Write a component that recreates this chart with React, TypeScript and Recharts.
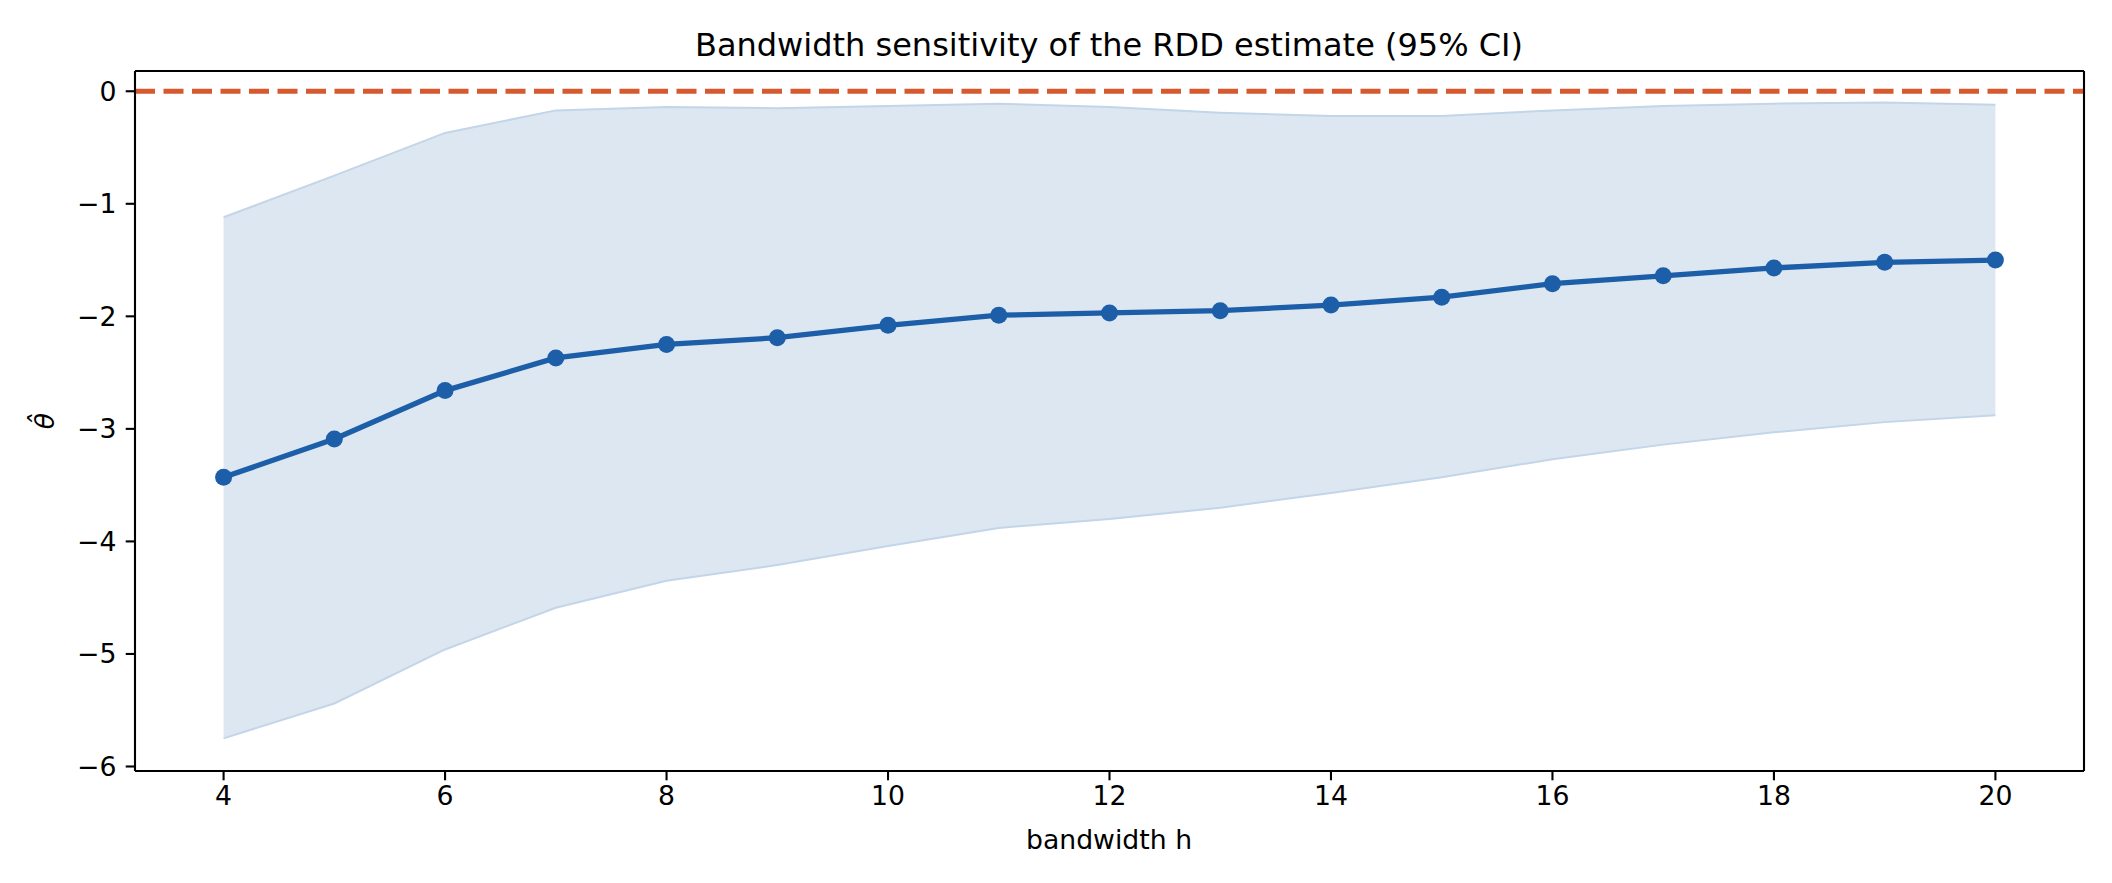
import React from "react";
import {
  ComposedChart,
  Area,
  Line,
  XAxis,
  YAxis,
  ReferenceLine,
} from "recharts";

const bandwidths = [4, 5, 6, 7, 8, 9, 10, 11, 12, 13, 14, 15, 16, 17, 18, 19, 20];
const estimates = [
  -3.43, -3.09, -2.66, -2.37, -2.25, -2.19, -2.08, -1.99, -1.97, -1.95, -1.9,
  -1.83, -1.71, -1.64, -1.57, -1.52, -1.5,
];
const ciLower = [
  -5.75, -5.44, -4.96, -4.59, -4.35, -4.21, -4.04, -3.88, -3.8, -3.7, -3.57,
  -3.43, -3.27, -3.14, -3.03, -2.94, -2.88,
];
const ciUpper = [
  -1.12, -0.75, -0.37, -0.17, -0.14, -0.15, -0.13, -0.11, -0.14, -0.19, -0.22,
  -0.22, -0.17, -0.13, -0.11, -0.1, -0.12,
];
const xTicks = [4, 6, 8, 10, 12, 14, 16, 18, 20];
const yTicks = [-6, -5, -4, -3, -2, -1, 0];
const xDomain = [3.2, 20.8];
const yDomain = [-6.04, 0.18];

const data = bandwidths.map((h, i) => ({
  h,
  est: estimates[i],
  ci: [ciLower[i], ciUpper[i]],
}));

const FONT = "'DejaVu Sans', sans-serif";
const minus = (v: number) => (v < 0 ? "\u2212" + Math.abs(v) : String(v));

const tickStyle = { fill: "#000", fontSize: 26.7, fontFamily: FONT };

const App = () => {
  return (
    <div
      style={{
        position: "absolute",
        left: 0,
        top: 0,
        width: 2112,
        height: 883,
        background: "#fff",
        fontFamily: FONT,
      }}
    >
      <ComposedChart
        width={2112}
        height={883}
        data={data}
        margin={{ top: 71, right: 28, bottom: 52, left: 35 }}
      >
        <XAxis
          dataKey="h"
          type="number"
          domain={xDomain}
          ticks={xTicks}
          allowDataOverflow
          height={60}
          tick={tickStyle}
          tickSize={9.3}
          tickMargin={6}
          stroke="#000"
          strokeWidth={2.1}
        />
        <YAxis
          type="number"
          domain={yDomain}
          ticks={yTicks}
          allowDataOverflow
          width={100}
          tick={tickStyle}
          tickFormatter={minus}
          tickSize={9.3}
          tickMargin={9.3}
          stroke="#000"
          strokeWidth={2.1}
        />
        <Area
          dataKey="ci"
          type="linear"
          fill="#dde7f1"
          fillOpacity={1}
          stroke="#c3d5e8"
          strokeWidth={2}
          dot={false}
          activeDot={false}
          isAnimationActive={false}
        />
        <ReferenceLine
          y={0}
          stroke="#d6592f"
          strokeWidth={5}
          strokeDasharray="20 8.5"
        />
        {/* top and right spines */}
        <ReferenceLine y={yDomain[1]} stroke="#000" strokeWidth={2.1} />
        <ReferenceLine x={xDomain[1]} stroke="#000" strokeWidth={2.1} />
        <Line
          dataKey="est"
          type="linear"
          stroke="#1c5ea8"
          strokeWidth={5.3}
          dot={{ r: 8.5, fill: "#1c5ea8", stroke: "none" }}
          activeDot={false}
          isAnimationActive={false}
        />
      </ComposedChart>
      <div
        style={{
          position: "absolute",
          left: 1109,
          top: 45,
          transform: "translate(-50%, -50%)",
          fontSize: 32,
          whiteSpace: "nowrap",
          color: "#000",
        }}
      >
        Bandwidth sensitivity of the RDD estimate (95% CI)
      </div>
      <div
        style={{
          position: "absolute",
          left: 1109,
          top: 839,
          transform: "translate(-50%, -50%)",
          fontSize: 26.7,
          whiteSpace: "nowrap",
          color: "#000",
        }}
      >
        bandwidth h
      </div>
      <div
        style={{
          position: "absolute",
          left: 44,
          top: 421,
          transform: "translate(-50%, -50%) rotate(-90deg)",
          fontSize: 26.7,
          fontStyle: "italic",
          whiteSpace: "nowrap",
          color: "#000",
        }}
      >
        θ̂
      </div>
    </div>
  );
};

export default App;
